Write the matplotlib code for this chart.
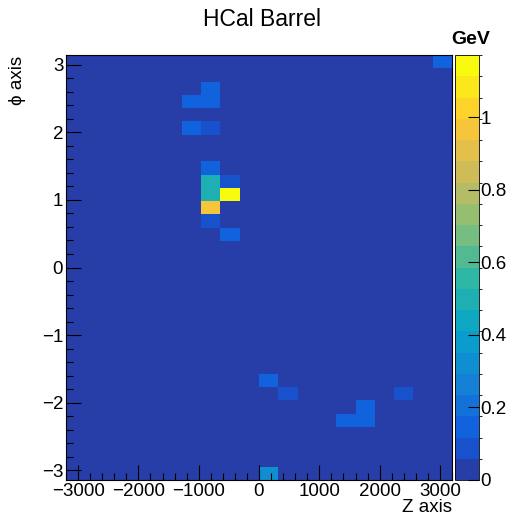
import numpy as np
import matplotlib.pyplot as plt
from matplotlib.colors import LinearSegmentedColormap, ListedColormap, BoundaryNorm
from matplotlib.ticker import MultipleLocator

plt.rcParams['font.family'] = ['Liberation Sans', 'DejaVu Sans']

# histogram binning (Z in mm, phi in rad)
z_edges = np.linspace(-3200, 3200, 21)
phi_edges = np.linspace(-np.pi, np.pi, 33)

# filled cells: z bin index, phi bin index (0 = bottom), energy in GeV
z_bin = [7, 6, 7, 6, 7, 7, 7, 8, 7, 8, 7, 7, 8, 19,
         10, 11, 17, 15, 14, 15, 10]
phi_bin = [29, 28, 28, 26, 26, 23, 22, 22, 21, 21, 20, 19, 18, 31,
           7, 6, 6, 5, 4, 4, 0]
energy = [0.14, 0.12, 0.12, 0.14, 0.09, 0.13, 0.50, 0.09, 0.50, 1.17, 0.97, 0.09, 0.12, 0.13,
          0.13, 0.10, 0.10, 0.13, 0.13, 0.13, 0.30]

zmax = 1.172
n_contours = 20

# ROOT kBird palette
stops = np.linspace(0, 1, 9)
red = [0.2082, 0.0592, 0.0780, 0.0232, 0.1802, 0.5301, 0.8186, 0.9956, 0.9764]
green = [0.1664, 0.3599, 0.5041, 0.6419, 0.7178, 0.7492, 0.7328, 0.7862, 0.9832]
blue = [0.5293, 0.8684, 0.8385, 0.7914, 0.6425, 0.4662, 0.3499, 0.1968, 0.0539]
bird = LinearSegmentedColormap.from_list('bird', list(zip(stops, zip(red, green, blue))))
cmap = ListedColormap([bird((k + 0.99) / n_contours) for k in range(n_contours)])
norm = BoundaryNorm(np.linspace(0, zmax, n_contours + 1), n_contours)

H = np.zeros((len(phi_edges) - 1, len(z_edges) - 1))
for i, j, e in zip(z_bin, phi_bin, energy):
    H[j, i] = e

fig = plt.figure(figsize=(5.12, 5.18), dpi=100)
ax = fig.add_axes([66 / 512, 38 / 518, 386 / 512, 425 / 518])
cax = fig.add_axes([455 / 512, 38 / 518, 24 / 512, 425 / 518])

mesh = ax.pcolormesh(z_edges, phi_edges, H, cmap=cmap, norm=norm)
ax.set_xlim(-3200, 3200)
ax.set_ylim(-np.pi, np.pi)

fs = 13.5
ax.xaxis.set_major_locator(MultipleLocator(1000))
ax.xaxis.set_minor_locator(MultipleLocator(200))
ax.yaxis.set_major_locator(MultipleLocator(1))
ax.yaxis.set_minor_locator(MultipleLocator(0.2))
ax.tick_params(which='both', direction='in', top=False, right=False, labelsize=fs, pad=2)
ax.tick_params(which='major', length=11, width=0.8)
ax.tick_params(which='minor', length=5, width=0.8)
for s in ax.spines.values():
    s.set_linewidth(0.8)

cb = fig.colorbar(mesh, cax=cax)
cb.set_ticks([0, 0.2, 0.4, 0.6, 0.8, 1.0])
cb.set_ticklabels(['0', '0.2', '0.4', '0.6', '0.8', '1'])
cax.tick_params(direction='in', length=8, width=0.8, labelsize=fs, pad=1)
cb.outline.set_linewidth(0.6)

fig.text(262 / 512, 1 - 20 / 518, 'HCal Barrel', ha='center', va='center', fontsize=16.5)
fig.text(471 / 512, 1 - 40 / 518, 'GeV', ha='center', va='center', fontsize=14, fontweight='bold')
fig.text(452 / 512, 1 - 507 / 518, 'Z axis', ha='right', va='center', fontsize=fs)
fig.text(18 / 512, 1 - 56 / 518, '\u03d5 axis', ha='center', va='top', rotation=90, fontsize=fs)

fig.savefig('out.png', dpi=100)
